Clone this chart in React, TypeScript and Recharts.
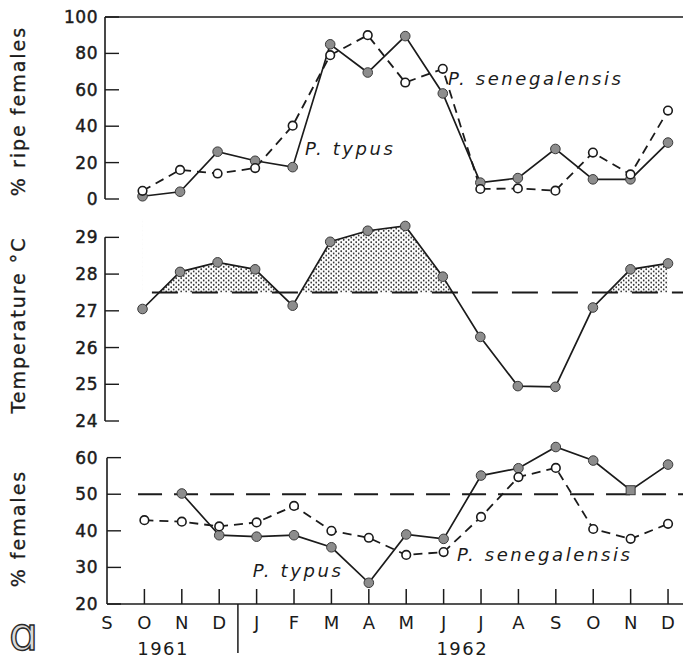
import React from "react";
import {
  ComposedChart,
  Line,
  Area,
  XAxis,
  YAxis,
  ReferenceLine,
  ReferenceArea,
  ReferenceDot,
} from "recharts";

// months S 1961 .. D 1962 (index 0 = S, data starts at O = 1)
const monthTicks = ["S", "O", "N", "D", "J", "F", "M", "A", "M", "J", "J", "A", "S", "O", "N", "D"];
const yearLabels = ["1961", "1962"];
const yearCentres = [1.5, 9.5];
const yearDivider = 3.5;

const ripeTypus = [1.5, 4, 26, 21, 17.5, 85, 69.5, 89.5, 58, 9, 11.5, 27.5, 10.8, 10.8, 31];
const ripeSenegalensis = [4.5, 16, 14, 17, 40.3, 79, 90, 64, 71.5, 5.5, 5.8, 4.6, 25.5, 13.5, 48.6];
const temperature = [27.05, 28.06, 28.32, 28.13, 27.14, 28.88, 29.18, 29.31, 27.93, 26.29, 24.95, 24.93, 27.09, 28.13, 28.29];
const femTypus = [null, 50.2, 38.8, 38.4, 38.8, 35.5, 25.8, 39, 37.8, 55.1, 57.1, 62.9, 59.2, 51.1, 58.1];
const femSenegalensis = [42.9, 42.5, 41.2, 42.3, 46.8, 40, 38.1, 33.4, 34.2, 43.8, 54.7, 57.2, 40.5, 37.8, 41.9];

const ripeTicks = [0, 20, 40, 60, 80, 100];
const tempTicks = [24, 25, 26, 27, 28, 29];
const femTicks = [20, 30, 40, 50, 60];
const tempThreshold = 27.5;
const evenRatio = 50;

const rows = temperature.map((t, i) => ({
  m: i + 1,
  ripeTypus: ripeTypus[i],
  ripeSenegalensis: ripeSenegalensis[i],
  temp: t,
  femTypus: femTypus[i],
  femSenegalensis: femSenegalensis[i],
}));

const INK = "#1b1b1b";
const FONT = "'DejaVu Sans', sans-serif";
const X_DOMAIN: [number, number] = [0, 15.4];

const makeYTick = (gap: number) => (props: any) => {
  const { x, y, payload } = props;
  return (
    <g>
      <line x1={x + gap} x2={x + gap + 14} y1={y} y2={y} stroke={INK} strokeWidth={1.4} />
      <text
        x={x}
        y={y}
        textAnchor="end"
        dominantBaseline="central"
        fontFamily={FONT}
        fontSize={17}
        letterSpacing={0.5}
        fill={INK}
        stroke={INK}
        strokeWidth={0.45}
      >
        {payload.value}
      </text>
    </g>
  );
};

const axisTitle = (text: string, dy: number) => (props: any) => {
  const vb = props.viewBox;
  const cx = vb.x + 18;
  const cy = vb.y + vb.height / 2 + dy;
  return (
    <text
      x={cx}
      y={cy}
      transform={`rotate(-90 ${cx} ${cy})`}
      textAnchor="middle"
      dominantBaseline="central"
      fontFamily={FONT}
      fontSize={19}
      letterSpacing={2}
      fill={INK}
      stroke={INK}
      strokeWidth={0.3}
    >
      {text}
    </text>
  );
};

const seriesLabel = (text: string) => (p: any) => (
  <text
    x={p.cx}
    y={p.cy}
    fontFamily={FONT}
    fontStyle="italic"
    fontSize={18}
    letterSpacing={2.6}
    fill={INK}
  >
    {text}
  </text>
);

function MonthTick(props: any) {
  const { x, y, payload } = props;
  return (
    <g>
      {payload.value > 0 && (
        <line x1={x} x2={x} y1={y} y2={y - 15} stroke={INK} strokeWidth={1.5} />
      )}
      <text
        x={x}
        y={y + 18}
        textAnchor="middle"
        dominantBaseline="central"
        fontFamily={FONT}
        fontSize={18}
        fill={INK}
      >
        {monthTicks[payload.value]}
      </text>
    </g>
  );
}

function YearTick(props: any) {
  const { x, y, payload } = props;
  if (payload.value === yearDivider) {
    return <line x1={x} x2={x} y1={y - 30} y2={y + 19} stroke={INK} strokeWidth={1.5} />;
  }
  return (
    <text
      x={x}
      y={y + 14}
      textAnchor="middle"
      dominantBaseline="central"
      fontFamily={FONT}
      fontSize={18}
      letterSpacing={1.5}
      fill={INK}
    >
      {yearLabels[yearCentres.indexOf(payload.value)]}
    </text>
  );
}

const filledDot = (props: any) => {
  const { cx, cy, index } = props;
  if (cy == null || cx == null) return <g key={`f${index}`} />;
  return (
    <circle key={`f${index}`} cx={cx} cy={cy} r={4.8} fill="#8d8d8d" stroke="#3a3a3a" strokeWidth={1} />
  );
};

// the N 1962 point in the bottom panel is a square
const femTypusDot = (props: any) => {
  const { cx, cy, index } = props;
  if (cy == null || cx == null) return <g key={`q${index}`} />;
  if (index === 13) {
    return (
      <rect key={`q${index}`} x={cx - 4.5} y={cy - 4.5} width={9} height={9} fill="#8d8d8d" stroke="#3a3a3a" strokeWidth={1} />
    );
  }
  return filledDot(props);
};

const openDot = (props: any) => {
  const { cx, cy, index } = props;
  if (cy == null || cx == null) return <g key={`o${index}`} />;
  return <circle key={`o${index}`} cx={cx} cy={cy} r={4.3} fill="#fff" stroke={INK} strokeWidth={1.6} />;
};

const axisLine = { stroke: INK, strokeWidth: 1.6 };

export default function App() {
  return (
    <div style={{ position: "relative", width: 683, height: 661, overflow: "hidden", background: "#fff" }}>
      <style>{"body{margin:0}"}</style>

      {/* % ripe females */}
      <div style={{ position: "absolute", top: 0, left: 0 }}>
        <ComposedChart width={700} height={210} data={rows} margin={{ top: 17, right: 17, bottom: 11, left: 0 }}>
          <XAxis dataKey="m" type="number" domain={X_DOMAIN} allowDataOverflow height={0} tick={false} tickLine={false} axisLine={axisLine} />
          <YAxis
            type="number"
            domain={[0, 100]}
            ticks={ripeTicks}
            interval={0}
            width={105}
            tickSize={0}
            tickMargin={7}
            tickLine={false}
            tick={makeYTick(7)}
            axisLine={axisLine}
            label={axisTitle("% ripe females", 3)}
          />
          <ReferenceLine y={100} stroke={INK} strokeWidth={1.6} />
          <Line dataKey="ripeTypus" stroke={INK} strokeWidth={1.7} dot={filledDot} activeDot={false} isAnimationActive={false} />
          <Line dataKey="ripeSenegalensis" stroke={INK} strokeWidth={1.8} strokeDasharray="9 6" dot={openDot} activeDot={false} isAnimationActive={false} />
          <ReferenceDot x={5.33} y={24.2} r={1} shape={seriesLabel("P. typus")} />
          <ReferenceDot x={9.14} y={62.6} r={1} shape={seriesLabel("P. senegalensis")} />
        </ComposedChart>
      </div>

      {/* temperature */}
      <div style={{ position: "absolute", top: 205, left: 0 }}>
        <ComposedChart width={700} height={225} data={rows} margin={{ top: 14, right: 17, bottom: 9, left: 0 }}>
          <defs>
            <pattern id="stipple" width="5" height="4.5" patternUnits="userSpaceOnUse">
              <circle cx="1.2" cy="1.1" r="0.9" fill="#1a1a1a" />
              <circle cx="3.7" cy="3.35" r="0.9" fill="#1a1a1a" />
            </pattern>
          </defs>
          <XAxis dataKey="m" type="number" domain={X_DOMAIN} allowDataOverflow height={0} tick={false} tickLine={false} axisLine={axisLine} />
          <YAxis
            type="number"
            domain={[24, 29.5]}
            ticks={tempTicks}
            interval={0}
            width={105}
            tickSize={0}
            tickMargin={7}
            tickLine={false}
            tick={makeYTick(7)}
            axisLine={false}
            label={axisTitle("Temperature °C", 5)}
          />
          <ReferenceLine segment={[{ x: 0, y: 24 }, { x: 0, y: 29 }]} stroke={INK} strokeWidth={1.6} />
          <ReferenceArea x1={1} x2={15} y1={tempThreshold} y2={29.5} fill="url(#stipple)" fillOpacity={1} stroke="none" />
          <Area dataKey="temp" baseValue={29.5} fill="#fff" fillOpacity={1} stroke="none" dot={false} activeDot={false} isAnimationActive={false} />
          <ReferenceLine
            segment={[{ x: 1.25, y: tempThreshold }, { x: 15.4, y: tempThreshold }]}
            stroke={INK}
            strokeWidth={2}
            strokeDasharray="26 14"
          />
          <Line dataKey="temp" stroke={INK} strokeWidth={1.7} dot={filledDot} activeDot={false} isAnimationActive={false} />
        </ComposedChart>
      </div>

      {/* % females */}
      <div style={{ position: "absolute", top: 430, left: 0 }}>
        <ComposedChart width={700} height={231} data={rows} margin={{ top: 13, right: 17, bottom: 0, left: 0 }}>
          <XAxis
            dataKey="m"
            type="number"
            domain={X_DOMAIN}
            allowDataOverflow
            ticks={monthTicks.map((_, i) => i)}
            interval={0}
            height={30}
            tickSize={0}
            tickMargin={0}
            tickLine={false}
            tick={<MonthTick />}
            axisLine={axisLine}
          />
          <XAxis
            xAxisId="yr"
            dataKey="m"
            type="number"
            domain={X_DOMAIN}
            allowDataOverflow
            ticks={[...yearCentres, yearDivider]}
            interval={0}
            height={27}
            tickSize={0}
            tickMargin={0}
            tickLine={false}
            axisLine={false}
            tick={<YearTick />}
          />
          <YAxis
            type="number"
            domain={[20, 64]}
            ticks={femTicks}
            interval={0}
            width={107}
            tickSize={0}
            tickMargin={9}
            tickLine={false}
            tick={makeYTick(9)}
            axisLine={false}
            label={axisTitle("% females", 5)}
          />
          <ReferenceLine segment={[{ x: 0, y: 20 }, { x: 0, y: 60 }]} stroke={INK} strokeWidth={1.6} />
          <ReferenceLine
            segment={[{ x: 0.83, y: evenRatio }, { x: 15.4, y: evenRatio }]}
            stroke={INK}
            strokeWidth={2}
            strokeDasharray="24 12"
          />
          <Line dataKey="femTypus" stroke={INK} strokeWidth={1.7} dot={femTypusDot} activeDot={false} isAnimationActive={false} />
          <Line dataKey="femSenegalensis" stroke={INK} strokeWidth={1.8} strokeDasharray="9 6" dot={openDot} activeDot={false} isAnimationActive={false} />
          <ReferenceDot x={3.9} y={27.4} r={1} shape={seriesLabel("P. typus")} />
          <ReferenceDot x={9.36} y={31.8} r={1} shape={seriesLabel("P. senegalensis")} />
        </ComposedChart>
      </div>

      <svg style={{ position: "absolute", left: 0, top: 600 }} width={70} height={61}>
        <text x={9} y={50} fontFamily={FONT} fontSize={46} fill="#dadada" stroke="#2a2a2a" strokeWidth={1.4}>
          ɑ
        </text>
      </svg>
    </div>
  );
}
